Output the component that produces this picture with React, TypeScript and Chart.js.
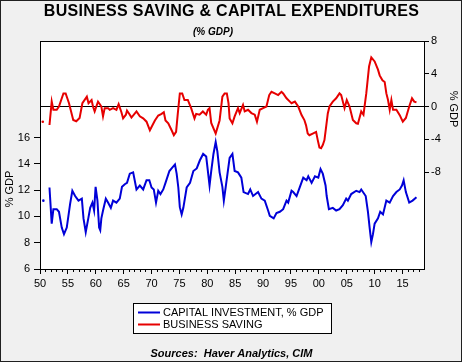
import React, { useEffect, useRef } from "react";
import { Chart, registerables } from "chart.js";

Chart.register(...registerables);

const FONT = '"Liberation Sans", Arial, Helvetica, sans-serif';

const TITLE = "BUSINESS SAVING & CAPITAL EXPENDITURES";
const SUBTITLE = "(% GDP)";
const SOURCE = "Sources:  Haver Analytics, CIM";
const AXIS_TITLE = "% GDP";
const CAPEX_NAME = "CAPITAL INVESTMENT, % GDP";
const SAVING_NAME = "BUSINESS SAVING";

const LEFT_TICKS = [6, 8, 10, 12, 14, 16];
const RIGHT_TICKS = [-8, -4, 0, 4, 8];
const X_MIN = 1950;
const X_MAX = 2018.85;
const LEFT_MIN = 6;
const LEFT_MAX = 23.34;
const RIGHT_MIN = -19.84;
const RIGHT_MAX = 8;

// Business saving (% GDP, right axis)
const savingYears = [
  1950.5, 1951.0,
  1951.7, 1952.1, 1952.4, 1953.0, 1953.4, 1954.2, 1954.6, 1955.2, 1955.96, 1956.5,
  1957.1, 1957.6, 1958.4, 1958.7, 1959.25, 1959.5, 1959.8, 1960.4, 1960.7, 1961.0,
  1961.3, 1961.6, 1962.2, 1962.5, 1963.1, 1963.7, 1964.1, 1964.6, 1964.9, 1965.4,
  1965.6, 1966.1, 1966.4, 1967.3, 1967.9, 1968.5, 1969.1, 1969.7, 1970.0, 1970.6,
  1971.2, 1971.8, 1972.2, 1972.5, 1973.0, 1973.6, 1974.0, 1974.4, 1974.7, 1975.07,
  1975.5, 1975.9, 1976.5, 1977.1, 1977.7, 1978.0, 1978.6, 1979.2, 1979.8, 1980.1,
  1980.4, 1980.7, 1981.5, 1982.2, 1982.7, 1983.1, 1983.5, 1983.8, 1984.0, 1984.5,
  1984.9, 1985.5, 1985.8, 1986.4, 1986.7, 1987.3, 1987.9, 1988.5, 1988.9, 1989.4,
  1990.0, 1990.6, 1991.1, 1991.5, 1992.1, 1992.7, 1993.3, 1993.6, 1994.2, 1994.8,
  1995.1, 1995.7, 1996.3, 1996.9, 1997.4, 1997.7, 1998.0, 1998.3, 1998.9, 1999.5,
  1999.8, 2000.1, 2000.4, 2000.7, 2001.0, 2001.3, 2001.6, 2001.9, 2002.5, 2003.1,
  2003.7, 2004.0, 2004.6, 2005.0, 2005.5, 2006.1, 2006.7, 2007.0, 2007.6, 2008.0,
  2008.5, 2009.0, 2009.4, 2010.0, 2010.6, 2010.9, 2011.4, 2011.8, 2012.1, 2012.4,
  2012.7, 2013.0, 2013.3, 2013.9, 2014.5, 2015.05, 2015.6, 2016.2, 2016.7, 2017.1,
  2017.5,
];
const savingValues = [
  -1.86, null,
  -2.26, 0.6, -0.4, -0.4, 0.0, 1.6, 1.6, 0.4, -1.65, -1.8,
  -1.4, 0.4, 1.2, 0.4, 0.8, 0.0, -0.6, 0.6, 0.3, 0.0,
  -1.2, -0.2, -0.2, -0.4, -0.2, -0.4, 0.3, -0.7, -1.45, -1.0,
  -0.5, -1.0, -1.35, -0.6, -1.2, -1.45, -1.85, -2.9, -2.5, -1.7,
  -1.1, -0.9, -0.7, -1.7, -2.05, -2.9, -3.5, -3.1, -0.9, 1.6,
  1.6, 0.8, 0.8, -0.2, -1.45, -0.9, -1.0, -0.6, -1.0, -0.4,
  -0.2, -2.0, -3.3, -1.7, 1.2, 1.6, 1.6, 0.4, -1.45, -2.05,
  -1.2, -0.2, -0.8, 0.2, -0.6, -0.4, -0.8, -1.0, -1.85, -0.4,
  -0.2, 0.0, 1.4, 1.8, 1.6, 1.4, 1.8, 1.6, 1.0, 0.6,
  0.4, 0.6, 0.0, -1.05, -1.65, -2.3, -3.3, -3.5, -3.3, -3.1,
  -4.1, -5.0, -5.1, -4.7, -4.1, -2.5, -0.85, 0.0, 0.6, 1.0,
  1.6, 1.4, -0.2, 0.8, 0.0, -1.65, -2.05, -2.1, -0.6, -1.0,
  1.6, 4.9, 6.0, 5.5, 4.5, 3.8, 3.2, 3.0, 1.6, 0.8,
  -0.4, 0.8, -0.4, -0.4, -1.05, -1.85, -1.4, 0.0, 1.0, 0.6,
  0.5,
];

// Capital investment (% GDP, left axis)
const capexYears = [
  1950.6, 1951.0,
  1951.7, 1952.1, 1952.4, 1953.0, 1953.4, 1953.9, 1954.3, 1954.8, 1955.4, 1955.8,
  1956.3, 1956.9, 1957.5, 1957.8, 1958.2, 1958.7, 1959.0, 1959.4, 1959.7, 1959.97,
  1960.3, 1960.6, 1960.8, 1961.0, 1961.3, 1961.8, 1962.2, 1962.7, 1963.1, 1963.7,
  1964.3, 1964.7, 1965.2, 1965.6, 1966.1, 1966.7, 1967.3, 1967.9, 1968.5, 1969.1,
  1969.6, 1970.0, 1970.4, 1970.8, 1971.2, 1971.6, 1972.1, 1972.5, 1973.2, 1973.6,
  1974.2, 1974.5, 1974.8, 1975.07, 1975.4, 1975.7, 1976.3, 1976.9, 1977.5, 1978.1,
  1978.65, 1979.25, 1979.8, 1980.4, 1980.7, 1981.1, 1981.5, 1981.8, 1982.2, 1982.7,
  1982.96, 1983.3, 1984.0, 1984.5, 1984.9, 1985.5, 1986.1, 1986.5, 1987.3, 1987.7,
  1988.2, 1989.1, 1989.7, 1990.3, 1990.9, 1991.2, 1991.9, 1992.4, 1993.0, 1993.6,
  1994.2, 1994.5, 1995.1, 1995.4, 1996.0, 1996.6, 1997.2, 1997.8, 1998.1, 1998.7,
  1999.3, 1999.9, 2000.3, 2000.7, 2001.2, 2001.4, 2001.8, 2002.5, 2003.1, 2003.7,
  2004.3, 2004.9, 2005.2, 2005.8, 2006.7, 2007.3, 2007.6, 2008.4, 2008.8, 2009.1,
  2009.4, 2009.7, 2010.0, 2010.6, 2011.0, 2011.5, 2012.1, 2012.7, 2013.3, 2013.9,
  2014.5, 2014.9, 2015.2, 2015.6, 2016.2, 2016.8, 2017.5,
];
const capexValues = [
  11.2, null,
  12.2, 9.45, 10.55, 10.55, 10.35, 9.15, 8.65, 9.15, 10.95, 11.95,
  11.55, 11.2, 11.35, 9.85, 8.8, 9.95, 10.65, 11.05, 10.45, 12.25,
  11.2, 9.15, 8.95, 9.85, 10.45, 11.35, 11.05, 10.65, 11.2, 11.05,
  11.35, 12.25, 12.45, 12.55, 13.25, 13.35, 12.05, 12.35, 12.05, 12.75,
  12.75, 12.2, 12.05, 11.05, 11.95, 11.7, 12.05, 12.55, 13.45, 13.65,
  13.95, 13.25, 12.2, 10.7, 10.15, 10.65, 12.2, 12.55, 13.45, 13.65,
  14.25, 14.75, 14.55, 12.35, 13.45, 14.75, 15.65, 14.95, 13.35, 12.25,
  11.2, 12.25, 14.45, 14.75, 13.45, 13.35, 12.95, 11.85, 11.7, 12.05,
  11.55, 11.85, 11.35, 11.2, 10.45, 10.05, 9.85, 10.25, 10.35, 10.55,
  11.2, 11.05, 11.95, 11.85, 11.55, 12.25, 12.95, 12.75, 13.05, 12.55,
  13.05, 12.95, 13.6, 13.25, 12.35, 11.55, 10.55, 10.65, 10.45, 10.55,
  10.85, 11.35, 11.2, 11.7, 11.95, 11.85, 12.05, 11.55, 10.35, 9.15,
  8.05, 8.65, 9.45, 9.85, 10.35, 10.15, 11.2, 11.05, 11.55, 11.85,
  12.05, 12.35, 12.75, 11.85, 11.05, 11.2, 11.45,
];

const RED = "#e60000";
const BLUE = "#0000d8";

function toPoints(xs: number[], ys: (number | null)[]) {
  return xs.map((x, i) => ({ x, y: ys[i] }));
}

function isolatedRadius(ctx: any) {
  const d = ctx.dataset.data as any[];
  const i = ctx.dataIndex;
  if (d[i] == null || d[i].y == null) return 0;
  const prev = d[i - 1];
  const next = d[i + 1];
  const noPrev = !prev || prev.y == null;
  const noNext = !next || next.y == null;
  return noPrev && noNext ? 1.3 : 0;
}

const crisp = (v: number) => Math.floor(v) + 0.5;

const decorPlugin = {
  id: "decor",
  beforeDraw(chart: any) {
    const { ctx, chartArea: a, width, height } = chart;
    ctx.save();
    ctx.fillStyle = "#f0f0f0";
    ctx.fillRect(0, 0, width, height);
    ctx.fillStyle = "#ffffff";
    ctx.fillRect(a.left, a.top, a.right - a.left, a.bottom - a.top);
    ctx.restore();
  },
  beforeDatasetsDraw(chart: any) {
    const { ctx, chartArea: a } = chart;
    const y0 = chart.scales.y1.getPixelForValue(0);
    ctx.save();
    ctx.strokeStyle = "#000";
    ctx.lineWidth = 1;
    ctx.beginPath();
    ctx.moveTo(a.left, crisp(y0));
    ctx.lineTo(a.right, crisp(y0));
    ctx.stroke();
    ctx.restore();
  },
  afterDraw(chart: any) {
    const { ctx, chartArea: a, width, height } = chart;
    ctx.save();
    // plot frame
    ctx.strokeStyle = "#000";
    ctx.lineWidth = 1;
    ctx.strokeRect(crisp(a.left), crisp(a.top), Math.round(a.right - a.left), Math.round(a.bottom - a.top));

    // minor x ticks (every year)
    const xs = chart.scales.x;
    ctx.beginPath();
    for (let yr = 1950; yr <= 2018; yr++) {
      if (yr % 5 === 0) continue;
      const px = crisp(xs.getPixelForValue(yr));
      ctx.moveTo(px, a.bottom);
      ctx.lineTo(px, a.bottom + 3);
    }
    ctx.stroke();

    // titles
    ctx.fillStyle = "#000";
    ctx.textAlign = "center";
    ctx.textBaseline = "middle";
    ctx.font = `bold 16px ${FONT}`;
    (ctx as any).letterSpacing = "0.3px";
    ctx.fillText(TITLE, 231.5, 12);
    (ctx as any).letterSpacing = "0px";
    ctx.font = `italic bold 10px ${FONT}`;
    ctx.fillText(SUBTITLE, 213, 32);

    // axis titles
    ctx.font = `11px ${FONT}`;
    ctx.save();
    ctx.translate(9.5, 189);
    ctx.rotate(-Math.PI / 2);
    ctx.fillText(AXIS_TITLE, 0, 0);
    ctx.restore();
    ctx.save();
    ctx.translate(453, 109);
    ctx.rotate(Math.PI / 2);
    ctx.fillText(AXIS_TITLE, 0, 0);
    ctx.restore();

    // legend
    ctx.fillStyle = "#fff";
    ctx.fillRect(133.5, 303.5, 198, 30);
    ctx.strokeStyle = "#000";
    ctx.strokeRect(133.5, 303.5, 198, 30);
    ctx.lineWidth = 2;
    ctx.strokeStyle = BLUE;
    ctx.beginPath();
    ctx.moveTo(138, 312.5);
    ctx.lineTo(160, 312.5);
    ctx.stroke();
    ctx.strokeStyle = RED;
    ctx.beginPath();
    ctx.moveTo(138, 324.5);
    ctx.lineTo(160, 324.5);
    ctx.stroke();
    ctx.fillStyle = "#000";
    ctx.textAlign = "left";
    ctx.font = `11px ${FONT}`;
    ctx.fillText(CAPEX_NAME, 163, 313);
    ctx.fillText(SAVING_NAME, 163, 325);

    // source
    ctx.textAlign = "center";
    ctx.font = `italic bold 11px ${FONT}`;
    ctx.fillText(SOURCE, 231.5, 354);

    // outer border
    ctx.lineWidth = 1;
    ctx.strokeStyle = "#202020";
    ctx.strokeRect(0.5, 0.5, width - 1, height - 1);
    ctx.restore();
  },
};

export default function App() {
  const canvasRef = useRef<HTMLCanvasElement | null>(null);

  useEffect(() => {
    const canvas = canvasRef.current;
    if (!canvas) return;
    const tickFont = { family: FONT, size: 11 };
    const chart = new Chart(canvas, {
      type: "line",
      data: {
        datasets: [
          {
            label: CAPEX_NAME,
            data: toPoints(capexYears, capexValues),
            yAxisID: "y",
            borderColor: BLUE,
            backgroundColor: BLUE,
            borderWidth: 2,
            pointRadius: isolatedRadius,
            pointBorderWidth: 0,
            pointHoverRadius: 0,
            tension: 0,
            spanGaps: false,
            fill: false,
          },
          {
            label: SAVING_NAME,
            data: toPoints(savingYears, savingValues),
            yAxisID: "y1",
            borderColor: RED,
            backgroundColor: RED,
            borderWidth: 2,
            pointRadius: isolatedRadius,
            pointBorderWidth: 0,
            pointHoverRadius: 0,
            tension: 0,
            spanGaps: false,
            fill: false,
          },
        ],
      },
      options: {
        responsive: false,
        animation: false,
        events: [],
        layout: { padding: { top: 41, left: 0, right: 0, bottom: 0 } },
        plugins: {
          legend: { display: false },
          title: { display: false },
          tooltip: { enabled: false },
        },
        scales: {
          x: {
            type: "linear",
            min: X_MIN,
            max: X_MAX,
            afterBuildTicks: (s: any) => {
              const t = [];
              for (let yr = 1950; yr <= 2018; yr++) t.push({ value: yr });
              s.ticks = t;
            },
            afterFit: (s: any) => {
              s.height = 93;
            },
            ticks: {
              autoSkip: false,
              maxRotation: 0,
              minRotation: 0,
              padding: 3,
              color: "#000",
              font: tickFont,
              callback: (v: any) => {
                const n = Math.round(Number(v));
                return n % 5 === 0 ? String(n % 100).padStart(2, "0") : "";
              },
            },
            grid: {
              display: true,
              drawOnChartArea: false,
              drawTicks: true,
              tickLength: 5,
              tickColor: (c: any) =>
                c.tick && Math.round(c.tick.value) % 5 === 0 ? "#000" : "rgba(0,0,0,0)",
            },
            border: { display: false },
          },
          y: {
            type: "linear",
            position: "left",
            min: LEFT_MIN,
            max: LEFT_MAX,
            afterBuildTicks: (s: any) => {
              s.ticks = LEFT_TICKS.map((v) => ({ value: v }));
            },
            afterFit: (s: any) => {
              s.width = 40;
            },
            ticks: { padding: 4, color: "#000", font: tickFont },
            grid: {
              display: true,
              drawOnChartArea: false,
              drawTicks: true,
              tickLength: 6,
              tickColor: "#000",
            },
            border: { display: false },
          },
          y1: {
            type: "linear",
            position: "right",
            min: RIGHT_MIN,
            max: RIGHT_MAX,
            afterBuildTicks: (s: any) => {
              s.ticks = RIGHT_TICKS.map((v) => ({ value: v }));
            },
            afterFit: (s: any) => {
              s.width = 38;
            },
            ticks: { padding: 2, color: "#000", font: tickFont },
            grid: {
              display: true,
              drawOnChartArea: false,
              drawTicks: true,
              tickLength: 5,
              tickColor: "#000",
            },
            border: { display: false },
          },
        },
      },
      plugins: [decorPlugin],
    });
    return () => chart.destroy();
  }, []);

  return (
    <div style={{ position: "absolute", left: 0, top: 0, width: 462, height: 362 }}>
      <canvas ref={canvasRef} width={462} height={362} style={{ display: "block" }} />
    </div>
  );
}
